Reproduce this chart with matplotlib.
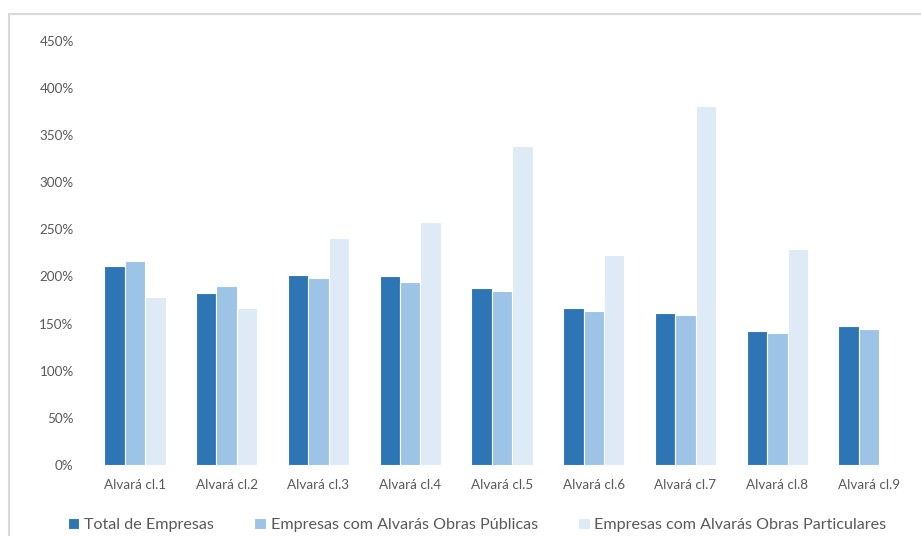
import matplotlib.pyplot as plt
from matplotlib.patches import Rectangle
import numpy as np

categories = ["Alvará cl.1", "Alvará cl.2", "Alvará cl.3", "Alvará cl.4", "Alvará cl.5",
              "Alvará cl.6", "Alvará cl.7", "Alvará cl.8", "Alvará cl.9"]
total = [211, 182, 201, 200, 188, 166, 161, 142, 147]
publicas = [216, 190, 198, 194, 184.5, 163, 159, 140, 144]
particulares = [178, 166, 241, 258, 338, 223, 381, 229, 0]
series_names = ["Total de Empresas", "Empresas com Alvarás Obras Públicas",
                "Empresas com Alvarás Obras Particulares"]
colors = ["#2E75B6", "#9DC3E6", "#DEEBF7"]
yticks = [0, 50, 100, 150, 200, 250, 300, 350, 400, 450]

plt.rcParams["font.family"] = ["Lato", "DejaVu Sans"]
text_color = "#595959"

fig = plt.figure(figsize=(9.21, 5.36), dpi=100)
# light outer frame of the chart area
fig.patches.append(Rectangle((9 / 921, -0.1), 1.2, (536 - 14) / 536 + 0.1,
                             transform=fig.transFigure, fill=False,
                             edgecolor="#D9D9D9", linewidth=1.5))
ax = fig.add_axes([89 / 921, 1 - 465 / 536, (915 - 89) / 921, (465 - 40.7) / 536])

x = np.arange(len(categories))
w = 0.223
for i, (vals, name) in enumerate(zip([total, publicas, particulares], series_names)):
    ax.bar(x + (i - 1) * w, vals, width=w, color=colors[i], edgecolor="white",
           linewidth=0.8, label=name)

ax.set_xlim(-0.5, len(categories) - 0.5)
ax.set_ylim(0, 450)
ax.set_yticks(yticks)
ax.set_yticklabels([f"{v}%" for v in yticks])
ax.set_xticks(x)
ax.set_xticklabels(categories)
ax.tick_params(axis="both", length=0, labelsize=9.7, colors=text_color)
ax.tick_params(axis="x", pad=10)
ax.tick_params(axis="y", pad=11)
for s in ax.spines.values():
    s.set_visible(False)

leg = fig.legend(loc="center", bbox_to_anchor=(477 / 921, 1 - 525 / 536), ncol=3,
                 frameon=False, fontsize=11.6, handlelength=0.72, handleheight=0.72,
                 handletextpad=0.3, columnspacing=2.5, borderaxespad=0)
for t in leg.get_texts():
    t.set_color(text_color)

plt.savefig("out.png", dpi=100)
